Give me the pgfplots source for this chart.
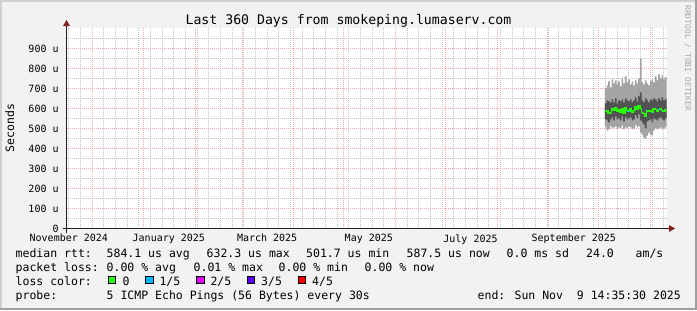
\documentclass[border=0pt]{standalone}
\usepackage{pgfplots}
\pgfplotsset{compat=1.18}
\usepackage{pgfplotstable}
\usepgfplotslibrary{fillbetween}
\usepackage{fontspec}
\setmainfont{DejaVu Sans Mono}
\definecolor{rrdback}{HTML}{F2F2F2}
\definecolor{shadea}{HTML}{CFCFCF}
\definecolor{shadeb}{HTML}{9E9E9E}
\definecolor{gridc}{HTML}{C2C2C2}
\definecolor{mgridc}{HTML}{F0A8A8}
\definecolor{arrowc}{HTML}{802020}
\definecolor{axisc}{HTML}{1F1F1F}
\definecolor{smokeA}{HTML}{A4A4A4}
\definecolor{smokeB}{HTML}{525252}
\definecolor{loss0}{HTML}{26FF00}
\definecolor{loss1}{HTML}{00B8FF}
\definecolor{loss2}{HTML}{DD00FF}
\definecolor{loss3}{HTML}{5E00FF}
\definecolor{loss4}{HTML}{FF0000}
\definecolor{wmark}{HTML}{A8A8A8}
\newcommand\legfont{\fontsize{11.5bp}{13bp}\selectfont}
\newcommand\axfont{\fontsize{10bp}{12bp}\selectfont}
\newcommand\titlefont{\fontsize{13.2bp}{15bp}\selectfont}
\newcommand\wmfont{\fontsize{8bp}{9bp}\selectfont}

% days since left edge (360-day window), ping rtt in microseconds (sorted p1..p5, p3 = median)
\pgfplotstableread{
d p1 p2 p3 p4 p5
323 505 545 585 625 700
324 490 540 590 640 715
325 495 530 575 635 735
326 510 545 580 630 705
327 500 555 600 645 745
328 505 540 590 630 725
329 510 560 605 650 740
330 500 545 585 625 720
331 505 550 595 640 735
332 500 540 580 635 710
333 515 560 600 645 750
334 495 535 575 630 725
335 505 555 605 650 760
336 500 545 590 640 730
337 510 550 585 635 745
338 505 555 600 645 720
339 495 540 580 630 735
340 500 545 590 640 715
341 515 565 610 655 740
342 505 550 595 635 725
343 510 570 615 660 750
344 480 540 600 680 850
345 470 530 580 640 730
346 455 520 575 630 720
347 450 500 560 650 740
348 465 535 590 640 725
349 480 540 585 630 715
350 470 545 590 645 735
351 465 530 580 640 745
352 490 550 600 650 730
353 500 545 595 645 760
354 495 540 585 635 740
355 500 550 595 650 770
356 505 555 600 640 750
357 495 545 590 655 765
358 500 540 585 640 745
359 505 550 595 645 755
360 505 550 595 645 755
}\smoke

\begin{document}
\begin{tikzpicture}[x=1bp,y=1bp]
\pgfplotsset{set layers}
% frame and background, on the lowest layer
\begin{pgfonlayer}{axis background}
\fill[shadeb] (0,0) rectangle (697,310);
\fill[shadea] (0,2) rectangle (695,310);
\fill[rrdback] (2,2) rectangle (695,308);
\end{pgfonlayer}

\begin{axis}[
  at={(66.5bp,81.5bp)}, anchor=south west,
  scale only axis, width=600bp, height=200bp,
  xmin=0, xmax=360, ymin=0, ymax=1000,
  axis background/.style={fill=white},
  axis line style={draw=none},
  tick style={draw=none},
  xtick={1.39,61.39,120.39,181.39,242.39,304.39},
  xticklabels={November 2024,January 2025,March 2025,May 2025,July 2025,September 2025},
  minor xtick={1.39,8.39,...,359},
  extra x ticks={15.39,46.39,77.39,105.39,136.39,166.39,197.39,227.39,258.39,289.39,319.39,350.39},
  extra x tick labels={},
  extra x tick style={grid=major},
  ytick={0,100,...,900},
  yticklabels={0\hspace{1.204em},100 u,200 u,300 u,400 u,500 u,600 u,700 u,800 u,900 u},
  minor ytick={50,150,...,950},
  ymajorgrids, xminorgrids, yminorgrids,
  minor grid style={gridc, dash pattern=on 1bp off 1bp, dash phase=0.5bp, line width=1bp},
  major grid style={mgridc, dash pattern=on 1bp off 1bp, dash phase=0.5bp, line width=1bp},
  xticklabel style={font=\axfont, anchor=north, inner sep=0pt},
  xticklabel shift=5.7bp,
  yticklabel style={font=\axfont, anchor=east, inner sep=0pt},
  yticklabel shift=7.7bp,
]
\addplot[name path=p1, draw=none, const plot] table[x=d,y=p1]{\smoke};
\addplot[name path=p5, draw=none, const plot] table[x=d,y=p5]{\smoke};
\addplot[fill=smokeA, draw=none] fill between[of=p1 and p5];
\addplot[name path=p2, draw=none, const plot] table[x=d,y=p2]{\smoke};
\addplot[name path=p4, draw=none, const plot] table[x=d,y=p4]{\smoke};
\addplot[fill=smokeB, draw=none] fill between[of=p2 and p4];
\addplot[loss0, const plot, line width=1.6bp] table[x=d,y=p3]{\smoke};
\addplot[loss1, line width=1.6bp] coordinates {(337,585) (338,585)};
\addplot[loss1, line width=1.6bp] coordinates {(348,590) (349,590)};
\addplot[loss1, line width=1.6bp] coordinates {(351,580) (352,580)};
\addplot[loss1, line width=1.6bp] coordinates {(355,595) (356,595)};
\end{axis}

% axes with arrows
\draw[axisc, line width=1bp] (62.5,81.5) -- (670,81.5);
\fill[arrowc] (669,85) -- (675,81.5) -- (669,78) -- cycle;
\draw[axisc, line width=1bp] (66.5,77.5) -- (66.5,285);
\fill[arrowc] (63,284) -- (66.5,290) -- (70,284) -- cycle;

% title, axis label, watermark
\node[anchor=base, inner sep=0pt, font=\titlefont] at (348.5,286) {Last 360 Days from smokeping.lumaserv.com};
\node[rotate=90, anchor=base, inner sep=0pt, font=\legfont] at (14,182) {Seconds};
\node[rotate=-90, anchor=base west, inner sep=0pt, font=\wmfont, text=wmark] at (685,305) {RRDTOOL / TOBI OETIKER};

% legend
\begin{scope}[every node/.style={anchor=base west, inner sep=0pt, font=\legfont}]
\node at (15.5,52.7) {median rtt:};
\node at (106.5,52.7) {584.1 us avg};
\node at (206.5,52.7) {632.3 us max};
\node at (306,52.7) {501.7 us min};
\node at (406.5,52.7) {587.5 us now};
\node at (506.5,52.7) {0.0 ms sd};
\node at (586,52.7) {24.0};
\node at (635.5,52.7) {am/s};
\node at (15.5,38.8) {packet loss:};
\node at (106.5,38.8) {0.00 \% avg};
\node at (193.5,38.8) {0.01 \% max};
\node at (278.5,38.8) {0.00 \% min};
\node at (364.5,38.8) {0.00 \% now};
\node at (15.5,24.9) {loss color:};
\node at (122.5,24.9) {0};
\node at (159.3,24.9) {1/5};
\node at (210.3,24.9) {2/5};
\node at (261,24.9) {3/5};
\node at (312,24.9) {4/5};
\node at (15.5,11) {probe:};
\node at (106.5,11) {5 ICMP Echo Pings (56 Bytes) every 30s};
\node at (477.5,11) {end: Sun Nov\ \ 9 14:35:30 2025};
\end{scope}
\foreach \bx/\col in {108.3/loss0,145.7/loss1,196.7/loss2,247.3/loss3,298.3/loss4}
  \filldraw[fill=\col, draw=black, line width=0.8bp] (\bx,26.6) rectangle ++(7.5,7.5);

\pgfresetboundingbox
\useasboundingbox (0,0) rectangle (697,310);
\end{tikzpicture}
\end{document}
